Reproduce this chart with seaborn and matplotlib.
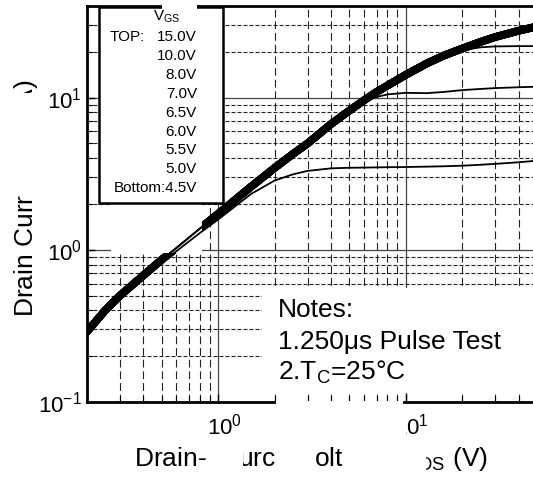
import matplotlib
matplotlib.use("Agg")
from matplotlib import pyplot as plt
from matplotlib.patches import Rectangle
from matplotlib.transforms import ScaledTranslation
from matplotlib.ticker import LogLocator, LogFormatterMathtext, NullFormatter
import seaborn as sns

vds = [0.2, 0.25, 0.3, 0.4, 0.5, 0.6, 0.8, 1.0, 1.5, 2.0, 2.5, 3.0, 4.0, 5.0, 6.0,
       7.0, 8.0, 10.0, 13.0, 16.0, 20.0, 25.0, 30.0, 40.0, 50.0]

# drain current (A) per gate voltage; 6.0V..15.0V sit on top of each other
id_upper = [0.29, 0.40, 0.50, 0.68, 0.86, 1.03, 1.38, 1.72, 2.6, 3.45, 4.25, 5.0, 6.7, 8.2, 9.6,
            10.9, 12.0, 14.1, 16.8, 18.9, 21.0, 23.2, 25.0, 27.5, 29.3]
id_5v5 = [0.29, 0.40, 0.50, 0.68, 0.86, 1.03, 1.38, 1.72, 2.6, 3.45, 4.25, 5.0, 6.7, 8.2, 9.6,
          10.9, 12.0, 14.1, 16.7, 18.6, 20.4, 21.4, 21.7, 21.8, 21.8]
id_5v0 = [0.29, 0.40, 0.50, 0.68, 0.86, 1.03, 1.38, 1.72, 2.6, 3.45, 4.25, 5.0, 6.7, 8.1, 9.3,
          10.1, 10.5, 10.75, 10.7, 10.9, 11.2, 11.4, 11.55, 11.7, 11.8]
id_4v5 = [0.29, 0.40, 0.50, 0.67, 0.83, 0.98, 1.29, 1.58, 2.33, 2.85, 3.13, 3.3, 3.43, 3.46, 3.47,
          3.48, 3.49, 3.5, 3.52, 3.54, 3.57, 3.62, 3.67, 3.76, 3.85]

vgs_labels = ["15.0V", "10.0V", "8.0V", "7.0V", "6.5V", "6.0V", "5.5V", "5.0V", "4.5V"]
curves = {
    "15.0V": id_upper, "10.0V": id_upper, "8.0V": id_upper, "7.0V": id_upper,
    "6.5V": id_upper, "6.0V": id_upper, "5.5V": id_5v5, "5.0V": id_5v0, "4.5V": id_4v5,
}
notes = ["Notes:", "1.250\u03bcs Pulse Test", r"2.T$_\mathrm{C}$=25°C"]

sns.set_style("white")
plt.rcParams["font.family"] = ["Liberation Sans", "DejaVu Sans"]
plt.rcParams["mathtext.fontset"] = "custom"
plt.rcParams["mathtext.rm"] = "Liberation Sans"
plt.rcParams["mathtext.it"] = "Liberation Sans:italic"
plt.rcParams["mathtext.bf"] = "Liberation Sans:bold"
for key in ["text.color", "axes.labelcolor", "xtick.color", "ytick.color"]:
    plt.rcParams[key] = "black"

W, H = 533, 479
fig = plt.figure(figsize=(W / 100, H / 100), dpi=100)
ax = fig.add_axes([87 / W, 77 / H, 449.7 / W, 396 / H])


def box(x0, y0, x1, y1):
    # pixel box (from top-left) -> figure fraction rectangle
    return (x0 / W, 1 - y1 / H), (x1 - x0) / W, (y1 - y0) / H


for lab in vgs_labels:
    upper = curves[lab] is id_upper
    sns.lineplot(x=vds, y=curves[lab], ax=ax, color="black",
                 lw=5.5 if upper else 1.3, zorder=2 if upper else 3,
                 solid_capstyle="round", solid_joinstyle="round")

ax.set_xscale("log")
ax.set_yscale("log")
ax.set_xlim(0.2, 50)
ax.set_ylim(0.1, 40)

ax.xaxis.set_major_locator(LogLocator(base=10))
ax.xaxis.set_minor_locator(LogLocator(base=10, subs=range(2, 10)))
ax.yaxis.set_major_locator(LogLocator(base=10))
ax.yaxis.set_minor_locator(LogLocator(base=10, subs=range(2, 10)))
ax.xaxis.set_major_formatter(LogFormatterMathtext())
ax.yaxis.set_major_formatter(LogFormatterMathtext())
ax.xaxis.set_minor_formatter(NullFormatter())
ax.yaxis.set_minor_formatter(NullFormatter())

ax.set_axisbelow(True)
ax.grid(which="major", color="#444444", lw=0.9, ls="-")
ax.xaxis.grid(which="minor", color="#222222", lw=0.8, ls=(0, (7, 3.5)))
ax.yaxis.grid(which="minor", color="#222222", lw=0.8, ls=(0, (3.6, 1.8)))

ax.tick_params(which="both", direction="in", labelsize=16, color="black",
               left=True, bottom=True)
ax.tick_params(which="major", length=6, width=1)
ax.tick_params(which="minor", length=4, width=0.8)
ax.tick_params(axis="x", pad=8)
for t in ax.get_xticklabels():
    t.set_transform(t.get_transform() + ScaledTranslation(6 / 100, 0, fig.dpi_scale_trans))

for side in ["left", "bottom", "top"]:
    ax.spines[side].set_linewidth(2)
    ax.spines[side].set_color("black")
ax.spines["right"].set_visible(False)

ax.set_xlabel(r"Drain-Source Voltage, V$_\mathrm{DS}$ (V)", fontsize=19)
ax.set_ylabel(r"Drain Current, I$_\mathrm{D}$ (A)", fontsize=19)
ax.xaxis.set_label_coords((311 - 87) / 449.7, (402 - 445) / 396)
ax.yaxis.set_label_coords((40 - 87) / 449.7, (402 - 198) / 396)

# white patch under the legend hides the grid and the merged traces there
xy, w, h = box(111, 204, 202, 253)
ax.add_patch(Rectangle(xy, w, h, transform=fig.transFigure, facecolor="white",
                       edgecolor="none", zorder=2.5, clip_on=False))

# legend box
xy, w, h = box(99, 7, 223, 203)
ax.add_patch(Rectangle(xy, w, h, transform=fig.transFigure, facecolor="white",
                       edgecolor="black", lw=1.8, zorder=4, clip_on=False))
fig.text(167 / W, 1 - 17 / H, r"V$_\mathrm{GS}$", fontsize=11, ha="center", va="center")
fig.text(110 / W, 1 - 37 / H, "TOP:", fontsize=11, ha="left", va="center")
for i, lab in enumerate(vgs_labels):
    txt = "Bottom:" + lab if i == len(vgs_labels) - 1 else lab
    fig.text(197 / W, 1 - (37 + 18.9 * i) / H, txt, fontsize=11, ha="right", va="center")

# notes box
xy, w, h = box(262, 288, 533, 393)
ax.add_patch(Rectangle(xy, w, h, transform=fig.transFigure, facecolor="white",
                       edgecolor="none", zorder=4, clip_on=False))
for i, line in enumerate(notes):
    fig.text(278 / W, 1 - (317 + 31.5 * i) / H, line, fontsize=19, ha="left", va="baseline")

# blanked-out bits of the scan
for x0, y0, x1, y1 in [(162, 0, 197, 10), (276, 401, 403, 412), (276, 412, 406, 446),
                       (0, 93, 45, 196), (207, 446, 243, 479), (275, 446, 316, 479),
                       (343, 446, 426, 479)]:
    xy, w, h = box(x0, y0, x1, y1)
    fig.add_artist(Rectangle(xy, w, h, transform=fig.transFigure, facecolor="white",
                             edgecolor="none", zorder=10))

fig.savefig("out.png", dpi=100)
